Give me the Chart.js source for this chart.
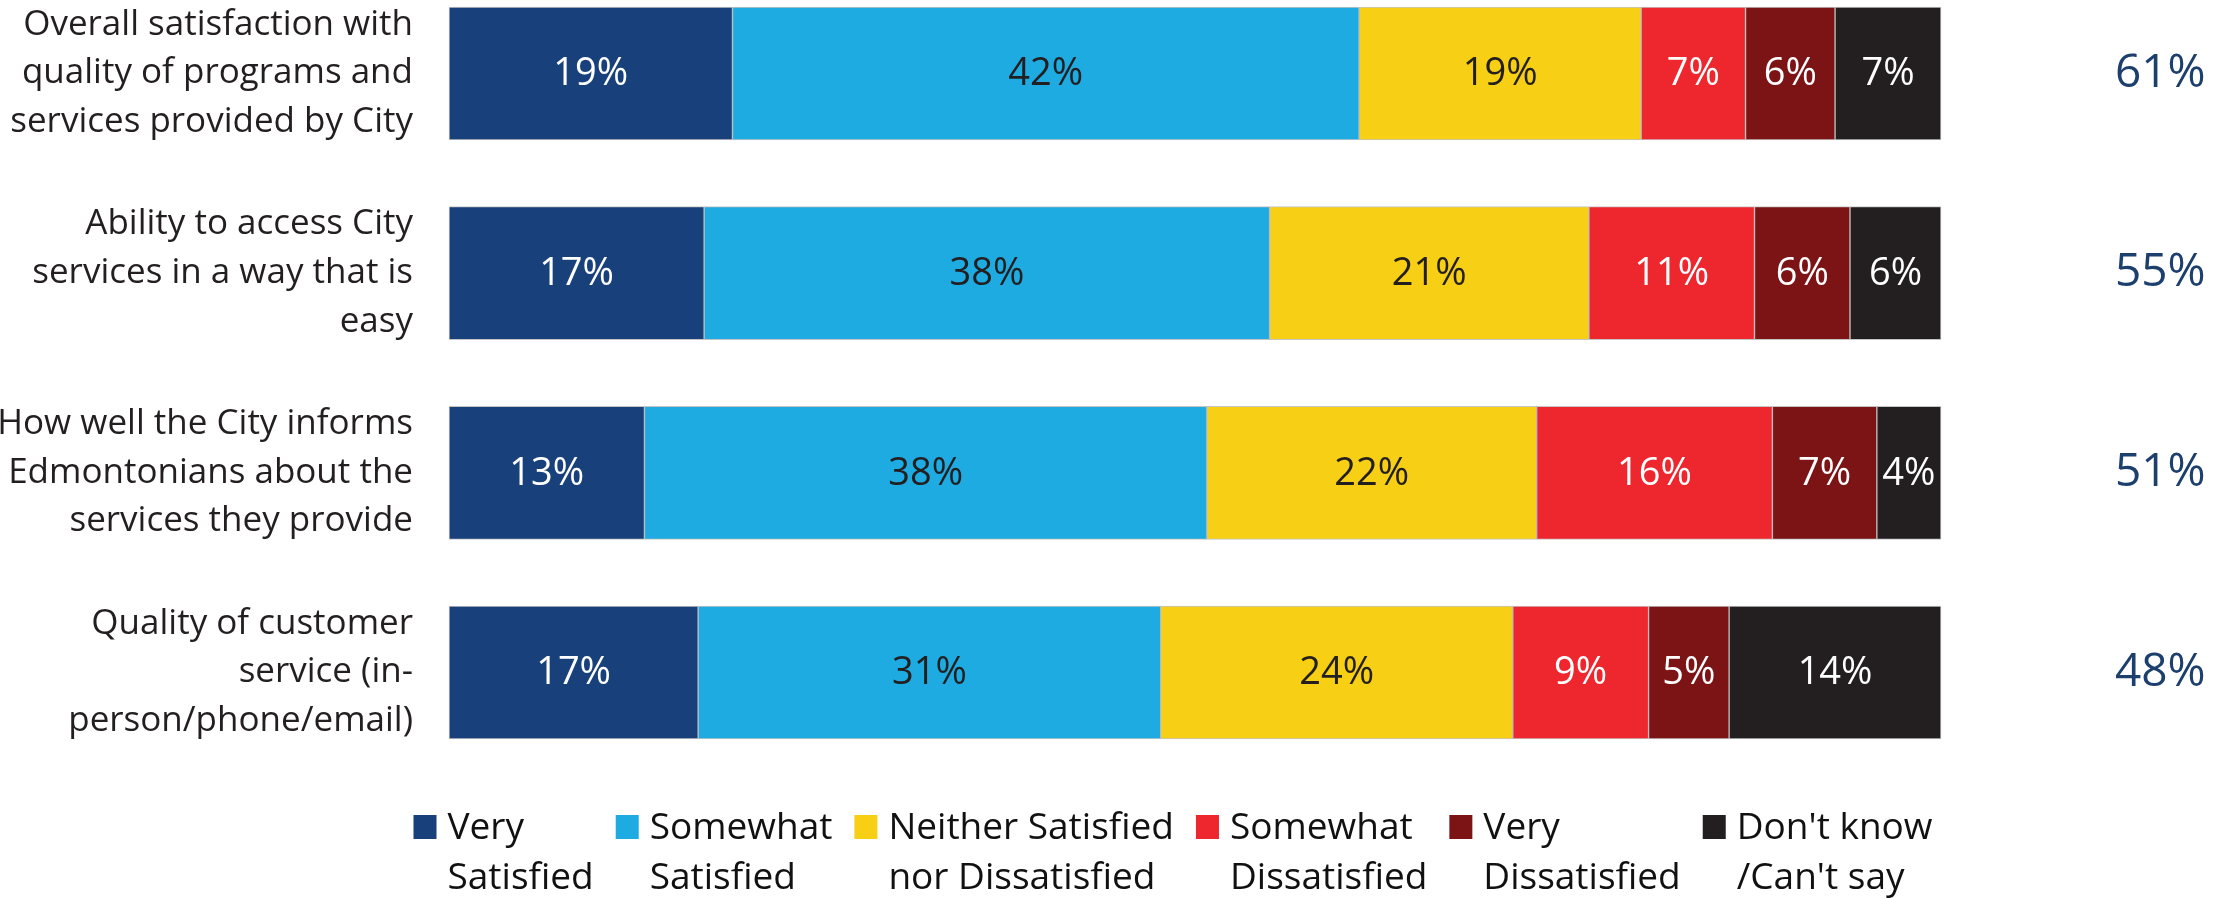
<!DOCTYPE html>
<html>
<head>
<meta charset="utf-8">
<script src="https://cdn.jsdelivr.net/npm/chart.js@4"></script>
<style>
  html, body { margin: 0; padding: 0; background: #ffffff; }
  #wrap { position: relative; width: 2233px; height: 898px; }
</style>
</head>
<body>
<div id="wrap"><canvas id="c"></canvas></div>
<script>
// ---- data ----
const categories = [
  ["Overall satisfaction with", "quality of programs and", "services provided by City"],
  ["Ability to access City", "services in a way that is", "easy"],
  ["How well the City informs", "Edmontonians about the", "services they provide"],
  ["Quality of customer", "service (in-", "person/phone/email)"]
];
const seriesNames = [
  ["Very", "Satisfied"],
  ["Somewhat", "Satisfied"],
  ["Neither Satisfied", "nor Dissatisfied"],
  ["Somewhat", "Dissatisfied"],
  ["Very", "Dissatisfied"],
  ["Don't know", "/Can't say"]
];
const verySatisfied        = [19.0, 17.1, 13.1, 16.7];
const somewhatSatisfied    = [42.0, 37.9, 37.7, 31.0];
const neither              = [18.9, 21.4, 22.1, 23.6];
const somewhatDissatisfied = [7.0, 11.1, 15.8, 9.1];
const veryDissatisfied     = [6.0, 6.4, 7.0, 5.4];
const dontKnow             = [7.1, 6.1, 4.3, 14.2];
const colors = ["#18407a", "#1eabe2", "#f7cf14", "#ee262e", "#7c1315", "#231f20"];
const labelColors = ["#ffffff", "#231f20", "#231f20", "#ffffff", "#ffffff", "#ffffff"];

const seriesValues = [verySatisfied, somewhatSatisfied, neither, somewhatDissatisfied, veryDissatisfied, dontKnow];
const netLabels = categories.map((_, i) => Math.round(verySatisfied[i] + somewhatSatisfied[i]) + "%");

const FONT = "'Open Sans', 'Noto Sans', sans-serif";

const barLabelPlugin = {
  id: 'barLabels',
  afterDatasetsDraw(chart) {
    const ctx = chart.ctx;
    ctx.save();
    ctx.font = "38px " + FONT;
    ctx.textAlign = "center";
    ctx.textBaseline = "middle";
    chart.data.datasets.forEach((ds, di) => {
      const meta = chart.getDatasetMeta(di);
      ctx.fillStyle = labelColors[di];
      meta.data.forEach((el, i) => {
        const p = el.getCenterPoint();
        ctx.fillText(Math.round(ds.data[i]) + "%", p.x, p.y + 1);
      });
    });
    ctx.restore();
  }
};

const legendPlugin = {
  id: 'customLegend',
  afterDraw(chart) {
    const ctx = chart.ctx;
    ctx.save();
    ctx.font = "37px " + FONT;
    ctx.textBaseline = "middle";
    ctx.textAlign = "left";
    const box = 23, gapBoxText = 11, gapItems = 22;
    const widths = seriesNames.map(l => Math.max(...l.map(s => ctx.measureText(s).width)));
    let total = 0;
    widths.forEach((w, i) => { total += box + gapBoxText + w + (i < widths.length - 1 ? gapItems : 0); });
    let x = 1173 - total / 2;
    const y1 = 828, y2 = 878;
    seriesNames.forEach((lines, i) => {
      ctx.fillStyle = colors[i];
      ctx.fillRect(x, y1 - 13, box, 24);
      ctx.fillStyle = "#111111";
      ctx.fillText(lines[0], x + box + gapBoxText, y1);
      if (lines[1]) ctx.fillText(lines[1], x + box + gapBoxText, y2);
      x += box + gapBoxText + widths[i] + gapItems;
    });
    ctx.restore();
  }
};

function zeroPad(scale) {
  scale.paddingTop = 0;
  scale.paddingBottom = 0;
}

new Chart(document.getElementById('c'), {
  type: 'bar',
  data: {
    labels: categories,
    datasets: seriesValues.map((vals, i) => ({
      label: seriesNames[i].join(' '),
      data: vals,
      backgroundColor: colors[i],
      borderColor: 'rgba(150,150,150,0.55)',
      borderWidth: 1,
      borderSkipped: false,
      barThickness: 133,
      clip: false,
      yAxisID: 'y'
    }))
  },
  options: {
    indexAxis: 'y',
    responsive: true,
    maintainAspectRatio: false,
    animation: false,
    events: [],
    layout: { padding: { top: 73.5, bottom: 225.5, left: 0, right: 0 } },
    plugins: { legend: { display: false }, tooltip: { enabled: false } },
    scales: {
      x: { stacked: true, min: 0, max: 100, display: false },
      y: {
        stacked: true,
        position: 'left',
        offset: false,
        grid: { display: false, drawTicks: false },
        border: { display: false },
        ticks: { color: '#231f20', padding: 36, font: { family: FONT, size: 35, lineHeight: 1.39 } },
        afterFit(scale) { scale.width = 449; zeroPad(scale); }
      },
      y2: {
        type: 'category',
        labels: netLabels,
        position: 'right',
        offset: false,
        grid: { display: false, drawTicks: false },
        border: { display: false },
        ticks: { color: '#1c3f6e', padding: 174, font: { family: FONT, size: 46 } },
        afterFit(scale) { scale.width = 292; zeroPad(scale); }
      }
    }
  },
  plugins: [barLabelPlugin, legendPlugin]
});
</script>
</body>
</html>
